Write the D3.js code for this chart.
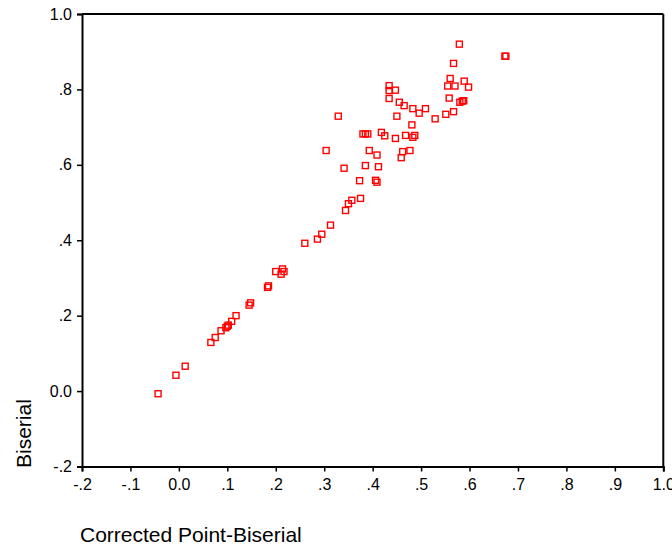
<!DOCTYPE html>
<html>
<head>
<meta charset="utf-8">
<script src="https://cdn.jsdelivr.net/npm/d3@7"></script>
<style>
  body { margin: 0; background: #fff; }
  svg text { font-family: "Liberation Sans", Arial, sans-serif; fill: #000; }
</style>
</head>
<body>
<div id="chart"></div>
<script>
// Corrected point-biserial (x) vs biserial (y), one entry per item
var corrected = [-0.043, -0.006, 0.013, 0.066, 0.075, 0.087, 0.097, 0.100, 0.102, 0.109,
  0.118, 0.145, 0.148, 0.183, 0.185, 0.200, 0.211, 0.214, 0.217, 0.260,
  0.286, 0.295, 0.313, 0.344, 0.350, 0.357, 0.375, 0.373, 0.406, 0.409,
  0.341, 0.385, 0.412, 0.304, 0.393, 0.409, 0.462, 0.477, 0.459, 0.380,
  0.385, 0.390, 0.418, 0.425, 0.447, 0.468, 0.483, 0.487, 0.481, 0.329,
  0.450, 0.529, 0.551, 0.567, 0.483, 0.496, 0.509, 0.455, 0.465, 0.434,
  0.434, 0.434, 0.447, 0.558, 0.580, 0.585, 0.588, 0.555, 0.570, 0.598,
  0.560, 0.589, 0.567, 0.579, 0.673, 0.675];
var biserial = [-0.007, 0.042, 0.066, 0.129, 0.142, 0.160, 0.168, 0.172, 0.175, 0.185,
  0.200, 0.228, 0.234, 0.275, 0.279, 0.317, 0.310, 0.324, 0.317, 0.392,
  0.403, 0.416, 0.440, 0.479, 0.497, 0.506, 0.511, 0.558, 0.559, 0.554,
  0.591, 0.598, 0.595, 0.638, 0.638, 0.626, 0.635, 0.638, 0.619, 0.682,
  0.682, 0.682, 0.686, 0.677, 0.670, 0.678, 0.673, 0.678, 0.706, 0.729,
  0.729, 0.722, 0.734, 0.741, 0.749, 0.737, 0.749, 0.766, 0.757, 0.776,
  0.797, 0.810, 0.798, 0.777, 0.766, 0.769, 0.770, 0.809, 0.809, 0.806,
  0.829, 0.822, 0.869, 0.920, 0.888, 0.888];

var xTicks = [-0.2, -0.1, 0, 0.1, 0.2, 0.3, 0.4, 0.5, 0.6, 0.7, 0.8, 0.9, 1.0];
var yTicks = [-0.2, 0, 0.2, 0.4, 0.6, 0.8, 1.0];
var xTitle = "Corrected Point-Biserial";
var yTitle = "Biserial";

(function () {
  var width = 672, height = 546;
  var plotLeft = 82, plotRight = 663.3, plotTop = 14, plotBottom = 466.5;

  // SPSS style labels: 1.0, .8, 0.0, -.2
  function fmt(d) {
    if (Math.abs(d) < 1e-9) return "0.0";
    if (Math.abs(d - 1) < 1e-9) return "1.0";
    return d.toFixed(1).replace(/^(-?)0\./, "$1.");
  }

  var svg = d3.select("#chart").append("svg")
    .attr("width", width).attr("height", height);

  var x = d3.scaleLinear().domain([-0.2, 1.0]).range([plotLeft, plotRight]);
  var y = d3.scaleLinear().domain([-0.2, 1.0]).range([plotBottom, plotTop]);

  // frame top and right
  svg.append("line").attr("x1", plotLeft).attr("x2", plotRight).attr("y1", plotTop).attr("y2", plotTop)
    .attr("stroke", "#000").attr("stroke-width", 2);
  svg.append("line").attr("x1", plotRight).attr("x2", plotRight).attr("y1", plotTop).attr("y2", plotBottom)
    .attr("stroke", "#000").attr("stroke-width", 2);

  var xAxis = svg.append("g")
    .attr("transform", "translate(0," + plotBottom + ")")
    .call(d3.axisBottom(x).tickValues(xTicks).tickFormat(fmt).tickSizeOuter(0).tickSize(5).tickPadding(7));

  var yAxis = svg.append("g")
    .attr("transform", "translate(" + plotLeft + ",0)")
    .call(d3.axisLeft(y).tickValues(yTicks).tickFormat(fmt).tickSizeOuter(0).tickSize(5).tickPadding(5));

  [xAxis, yAxis].forEach(function (g) {
    g.select(".domain").attr("stroke", "#000").attr("stroke-width", 2);
    g.selectAll(".tick line").attr("stroke", "#000").attr("stroke-width", 1.5);
    g.selectAll(".tick text").attr("font-size", 16)
      .style("font-family", "'Liberation Sans', Arial, sans-serif").attr("fill", "#000");
  });

  // points
  svg.append("g").selectAll("rect")
    .data(corrected)
    .enter()
    .append("rect")
    .attr("x", function (d) { return x(d) - 3; })
    .attr("y", function (d, i) { return y(biserial[i]) - 3; })
    .attr("width", 6)
    .attr("height", 6)
    .attr("fill", "none")
    .attr("stroke", "#ff0000")
    .attr("stroke-width", 1.4);

  // axis titles
  svg.append("text")
    .attr("x", 80).attr("y", 541.5)
    .attr("font-size", 21)
    .text(xTitle);

  svg.append("text")
    .attr("transform", "translate(31,468) rotate(-90)")
    .attr("font-size", 21)
    .text(yTitle);
})();
</script>
</body>
</html>
